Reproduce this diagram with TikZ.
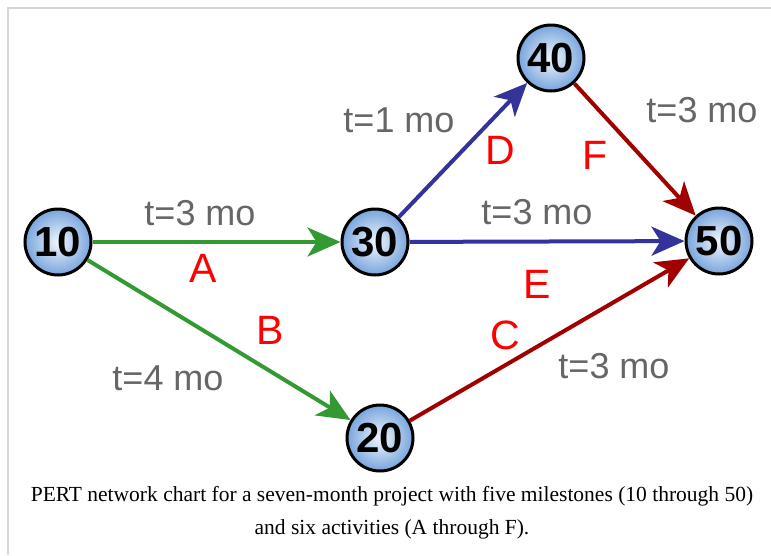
\documentclass[tikz,border=0pt]{standalone}
\usepackage{fontspec}
\setmainfont{Liberation Serif}
\newfontfamily\labelfont{Liberation Sans}
\usetikzlibrary{arrows.meta}
\definecolor{actgreen}{RGB}{51,153,51}
\definecolor{actblue}{RGB}{51,51,153}
\definecolor{actred}{RGB}{160,0,0}
\definecolor{durgray}{RGB}{102,102,102}
\definecolor{framegray}{RGB}{214,214,214}
\definecolor{nodeblue}{RGB}{120,165,220}
\definecolor{nodelight}{RGB}{240,246,252}
\tikzset{
	milestone/.style={circle, draw=black, line width=3pt, minimum size=66pt, inner sep=0pt,
		inner color=nodelight, outer color=nodeblue,
		font=\labelfont\bfseries\fontsize{42}{42}\selectfont},
	activity/.style={line width=4pt, -{Stealth[length=33pt, width=29pt, inset=9pt]}},
	duration/.style={text=durgray, inner sep=0pt, font=\labelfont\fontsize{36}{36}\selectfont},
	letter/.style={text=red, inner sep=0pt, font=\labelfont\fontsize{41}{41}\selectfont},
	caption/.style={align=center, inner sep=0pt, font=\fontsize{21.5}{33}\selectfont}
}
\begin{document}
\begin{tikzpicture}[x=1pt, y=1pt]
	\useasboundingbox (0,0) rectangle (771,-555);
	\draw[framegray, line width=2pt] (8,-555) -- (8,-8) -- (771,-8);
	\foreach \name/\x/\y in {10/58/242, 30/375/242, 40/551/58, 50/719/241, 20/380/438}
		\node[milestone] (n\name) at (\x,-\y) {\name};
	\foreach \from/\to/\col in {10/30/actgreen, 10/20/actgreen, 30/40/actblue,
			30/50/actblue, 40/50/actred, 20/50/actred}
		\draw[activity, \col] (n\from) -- (n\to);
	\foreach \x/\y/\t [count = \i] in {200/213/t=3 mo, 168/378/t=4 mo, 399/120/t=1 mo,
			537/212/t=3 mo, 702/110/t=3 mo, 614/366/t=3 mo}
		\node[duration] (dur\i) at (\x,-\y) {\t};
	\foreach \x/\y/\t in {203/268/A, 270/330/B, 505/335/C, 500/150/D, 537/284/E, 595/155/F}
		\node[letter] (act\t) at (\x,-\y) {\t};
	\node[caption] (cap) at (392,-513) {PERT network chart for a seven-month project with five milestones (10 through 50)\\
		and six activities (A through F).};
\end{tikzpicture}
\end{document}
